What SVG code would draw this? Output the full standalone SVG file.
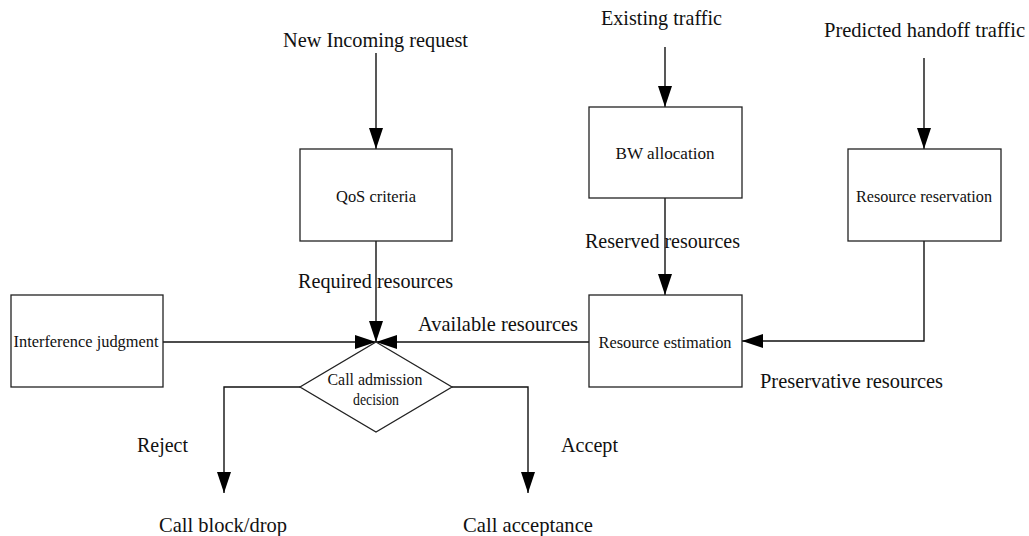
<svg xmlns="http://www.w3.org/2000/svg" width="1029" height="536" viewBox="0 0 1029 536">
  <style>
    .box { fill: #ffffff; stroke: #222222; stroke-width: 1.3; }
    .wire { fill: none; stroke: #111111; stroke-width: 1.4; }
    .lbl { font-family: "Liberation Serif", "Times New Roman", serif; font-size: 21px; fill: #111111; }
    .in { font-family: "Liberation Serif", "Times New Roman", serif; font-size: 17px; fill: #111111; text-anchor: middle; }
  </style>
  <defs>
    <marker id="head" markerUnits="userSpaceOnUse" markerWidth="22" markerHeight="16" refX="21" refY="7" orient="auto">
      <path d="M0,0 L21,7 L0,14 Z" fill="#000000"/>
    </marker>
  </defs>
  <rect width="1029" height="536" fill="#ffffff"/>

  <!-- connectors -->
  <g id="connectors">
    <line class="wire" x1="376" y1="53" x2="376" y2="149" marker-end="url(#head)"/>
    <line class="wire" x1="665" y1="47" x2="665" y2="107" marker-end="url(#head)"/>
    <line class="wire" x1="924" y1="58" x2="924" y2="149" marker-end="url(#head)"/>
    <line class="wire" x1="376" y1="241" x2="376" y2="342" marker-end="url(#head)"/>
    <line class="wire" x1="163" y1="342" x2="376" y2="342" marker-end="url(#head)"/>
    <line class="wire" x1="589" y1="342" x2="376" y2="342" marker-end="url(#head)"/>
    <line class="wire" x1="665" y1="198" x2="665" y2="295" marker-end="url(#head)"/>
    <polyline class="wire" points="924,241 924,341 742,341" marker-end="url(#head)"/>
    <polyline class="wire" points="300,387 224,387 224,493" marker-end="url(#head)"/>
    <polyline class="wire" points="452,387 528,387 528,493" marker-end="url(#head)"/>
  </g>

  <!-- nodes -->
  <g id="qos-criteria">
    <rect class="box" x="300" y="149" width="152" height="92"/>
    <text class="in" x="376" y="202" textLength="80" lengthAdjust="spacingAndGlyphs">QoS criteria</text>
  </g>
  <g id="bw-allocation">
    <rect class="box" x="589" y="107" width="153" height="91"/>
    <text class="in" x="665" y="159" textLength="99" lengthAdjust="spacingAndGlyphs">BW allocation</text>
  </g>
  <g id="resource-reservation">
    <rect class="box" x="848" y="149" width="153" height="92"/>
    <text class="in" x="924" y="202" textLength="136" lengthAdjust="spacingAndGlyphs">Resource reservation</text>
  </g>
  <g id="interference-judgment">
    <rect class="box" x="11" y="295" width="152" height="92"/>
    <text class="in" x="86" y="347" textLength="145" lengthAdjust="spacingAndGlyphs">Interference judgment</text>
  </g>
  <g id="resource-estimation">
    <rect class="box" x="589" y="295" width="153" height="92"/>
    <text class="in" x="665" y="348" textLength="133" lengthAdjust="spacingAndGlyphs">Resource estimation</text>
  </g>
  <g id="call-admission-decision">
    <polygon class="box" points="376,342 452,387 376,432 300,387"/>
    <text class="in" x="375" y="385" textLength="95" lengthAdjust="spacingAndGlyphs">Call admission</text>
    <text class="in" x="376" y="405" textLength="46" lengthAdjust="spacingAndGlyphs">decision</text>
  </g>

  <!-- free labels -->
  <g id="labels">
    <text class="lbl" x="283" y="47" textLength="185" lengthAdjust="spacingAndGlyphs">New Incoming request</text>
    <text class="lbl" x="601" y="25" textLength="121" lengthAdjust="spacingAndGlyphs">Existing traffic</text>
    <text class="lbl" x="824" y="37" textLength="201" lengthAdjust="spacingAndGlyphs">Predicted handoff traffic</text>
    <text class="lbl" x="298" y="288" textLength="155" lengthAdjust="spacingAndGlyphs">Required resources</text>
    <text class="lbl" x="585" y="248" textLength="155" lengthAdjust="spacingAndGlyphs">Reserved resources</text>
    <text class="lbl" x="418" y="331" textLength="160" lengthAdjust="spacingAndGlyphs">Available resources</text>
    <text class="lbl" x="760" y="388" textLength="183" lengthAdjust="spacingAndGlyphs">Preservative resources</text>
    <text class="lbl" x="137" y="452" textLength="51" lengthAdjust="spacingAndGlyphs">Reject</text>
    <text class="lbl" x="561" y="452" textLength="57" lengthAdjust="spacingAndGlyphs">Accept</text>
    <text class="lbl" x="159" y="532" textLength="128" lengthAdjust="spacingAndGlyphs">Call block/drop</text>
    <text class="lbl" x="463" y="532" textLength="130" lengthAdjust="spacingAndGlyphs">Call acceptance</text>
  </g>
</svg>
